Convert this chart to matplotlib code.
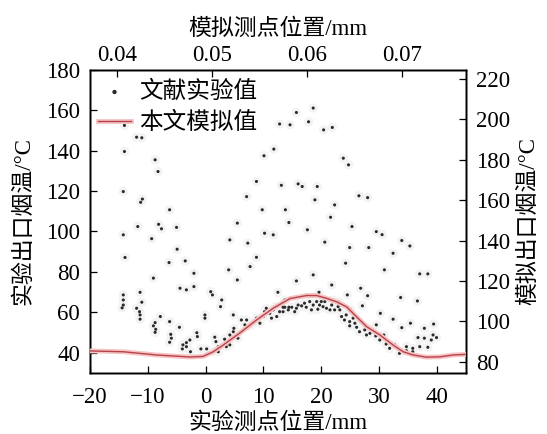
import matplotlib
matplotlib.use('Agg')
import matplotlib.pyplot as plt
import matplotlib.patheffects as pe

plt.rcParams['font.family'] = ['Liberation Serif', 'Noto Sans CJK SC']
plt.rcParams['axes.unicode_minus'] = True

# 文献实验值 (实验测点位置 mm, 实验出口烟温 °C)
exp_x = [-14.0, -11.9, -11.0, -14.0, -8.7, -8.2, -14.2, -10.9, -11.2, -6.2,
         7.1, 8.8, 9.8, 10.1, 11.8, 13.1, 12.8, 13.8, -11.7, -8.1,
         -7.6, -5.0, -14.2, -9.3, -4.9, -13.9, -6.3, -3.5, -9.0, -4.4,
         -3.3, -2.0, -2.0, -11.3, -14.2, -14.2, -14.2, -14.4, -11.0, -11.9,
         -11.4, -11.3, -11.3, -7.8, -8.7, -9.0, -8.6, -8.7, -6.2, -4.5,
         -6.0, -5.9, -6.2, -2.7, -3.3, -3.9, -3.3, -4.0, -2.6, -1.5,
         -1.4, -0.1, -0.1, -0.8, 0.2, 0.9, 1.2, 2.8, 2.6, 1.6,
         1.8, 2.2, 2.2, 1.3, 4.8, 4.9, 4.8, 4.2, 3.3, 4.2,
         3.6, 5.6, 6.2, 4.2, 5.5, 7.3, 4.0, 5.5, 7.7, 8.8,
         10.2, 11.7, 12.5, 7.1, 6.8, 7.7, 8.2, 8.8, 9.4, 10.0,
         10.2, 10.5, 11.1, 11.7, 12.0, 12.3, 12.8, 13.4, 13.7, 14.4,
         11.4, 15.7, 18.6, 14.6, 17.8, 20.4, 21.9, 23.8, 24.7, 16.0,
         16.7, 19.3, 18.9, 22.3, 21.6, 26.5, 28.0, 14.4, 17.6, 25.3,
         29.5, 30.5, 20.6, 24.9, 28.2, 33.9, 35.3, 32.4, 24.2, 30.9,
         18.6, 15.7, 37.0, 38.4, 21.8, 26.8, 28.0, 24.5, 19.6, 33.7,
         36.6, 27.1, 30.2, 32.4, 33.9, 35.4, 39.4, 37.8, 29.5, 36.7,
         37.8, 39.3, 39.9, 39.0, 38.4, 37.0, 35.8, 35.8, 34.7, 34.7,
         33.5, 32.7, 31.8, 31.2, 30.8, 30.1, 29.4, 28.9, 28.4, 27.8,
         28.1, 27.5, 26.6, 26.1, 25.8, 24.9, 24.9, 25.5, 24.0, 24.3,
         23.5, 23.2, 22.9, 22.3, 21.8, 21.5, 20.9, 20.3, 20.6, 20.0,
         19.7, 19.4, 19.2, 18.6, 18.3, 18.0, 17.4, 17.1, 16.6, 16.0,
         15.7, 15.4, 14.9, 14.3, 13.7, 13.4, 25.0, 22.9, 22.0]
exp_y = [152.4, 146.6, 146.3, 139.5, 135.4, 129.6, 119.7, 116.0, 114.4, 110.7,
         117.2, 124.7, 110.7, 137.4, 140.7, 122.8, 153.1, 110.7, 102.4, 103.5,
         101.3, 102.0, 98.3, 96.4, 91.2, 87.1, 84.6, 85.4, 76.9, 71.9,
         71.1, 72.7, 79.3, 69.9, 68.6, 66.1, 63.6, 62.2, 65.0, 62.0,
         60.3, 58.7, 56.6, 57.9, 54.9, 53.3, 51.6, 50.1, 55.4, 52.6,
         49.1, 47.2, 45.2, 46.3, 45.0, 43.9, 43.0, 41.9, 40.5, 49.9,
         48.0, 58.7, 57.1, 41.9, 41.9, 70.2, 68.6, 66.1, 62.8, 47.7,
         45.5, 43.0, 40.5, 40.5, 58.7, 52.1, 50.4, 48.8, 46.7, 43.9,
         43.0, 47.2, 56.2, 95.8, 104.1, 94.2, 81.0, 76.0, 82.6, 87.2,
         99.1, 98.3, 69.9, 56.2, 53.8, 53.3, 54.6, 57.1, 54.6, 57.9,
         60.3, 62.0, 59.5, 61.2, 62.8, 57.9, 60.3, 62.5, 66.1, 62.5,
         57.1, 158.8, 161.0, 152.7, 154.2, 150.2, 151.4, 136.2, 132.9, 123.5,
         122.2, 122.2, 115.6, 113.1, 107.0, 117.6, 116.7, 104.4, 100.8, 102.4,
         99.9, 98.4, 94.7, 92.0, 92.0, 95.5, 92.8, 89.2, 84.3, 81.0,
         78.5, 75.5, 79.0, 79.0, 73.5, 71.9, 68.2, 68.6, 69.9, 67.3,
         65.6, 63.2, 59.5, 56.6, 52.4, 54.6, 54.2, 52.1, 53.8, 47.5,
         47.2, 48.8, 47.5, 46.3, 42.7, 43.0, 42.2, 40.5, 43.0, 41.0,
         39.7, 43.9, 42.2, 44.3, 48.8, 46.3, 48.3, 51.3, 49.6, 48.8,
         52.1, 51.3, 50.4, 52.6, 54.6, 53.3, 55.4, 57.1, 56.2, 58.7,
         57.9, 61.2, 62.8, 61.2, 63.6, 61.2, 62.0, 62.8, 65.3, 65.3,
         63.6, 61.5, 65.3, 63.6, 61.2, 65.3, 62.5, 64.5, 63.2, 63.6,
         62.0, 60.3, 62.5, 61.2, 62.5, 60.3, 61.5, 65.3, 66.1]

# 本文模拟值 (模拟测点位置 mm, 模拟出口烟温 °C)
sim_x = [0.03712, 0.04063, 0.04416, 0.04767, 0.04907, 0.05013, 0.05118,
         0.05294, 0.05470, 0.05646, 0.05822, 0.05998, 0.06103, 0.06209,
         0.06314, 0.06420, 0.06525, 0.06631, 0.06771, 0.06911, 0.07017,
         0.07122, 0.07264, 0.07404, 0.07544, 0.07678]
sim_y = [85.4, 85.0, 83.4, 82.4, 82.7, 85.0, 88.3, 94.3, 100.7, 106.5,
         111.3, 112.8, 112.8, 111.4, 109.7, 107.2, 102.3, 97.4, 93.3, 88.3,
         85.0, 83.4, 82.3, 82.5, 83.4, 83.7]

bottom_ticks = [-20, -10, 0, 10, 20, 30, 40]
top_ticks = [0.04, 0.05, 0.06, 0.07]
left_ticks = [40, 60, 80, 100, 120, 140, 160, 180]
right_ticks = [80, 100, 120, 140, 160, 180, 200, 220]

fig = plt.figure(figsize=(5.47, 4.34), dpi=100)
ax = fig.add_axes([0.164, 0.1406, 0.688, 0.699])
ax2 = ax.twinx()
ax3 = ax2.twiny()

# 实验点: 浅灰晕 + 深色点
ax.scatter(exp_x, exp_y, s=45, color='#f3f3f3', edgecolors='none', zorder=1)
pts = ax.scatter(exp_x, exp_y, s=5, color='#2a2a2a', edgecolors='none',
                 zorder=2, label='文献实验值')

line, = ax3.plot(sim_x, sim_y, color='#b8424a', linewidth=1.0,
                 label='本文模拟值', zorder=3,
                 path_effects=[pe.Stroke(linewidth=3.5, foreground='#f5c4c4'),
                               pe.Normal()])

ax.set_xlim(-20, 45)
ax.set_ylim(30, 180)
ax2.set_ylim(74.5, 224.5)
ax3.set_xlim(0.0371, 0.0768)

ax.set_xticks(bottom_ticks)
ax.set_yticks(left_ticks)
ax2.set_yticks(right_ticks)
ax3.set_xticks(top_ticks)
ax3.set_xticklabels(['0.04', '0.05', '0.06', '0.07'])

for a in (ax, ax2, ax3):
    a.tick_params(direction='in', length=5, width=0.9, labelsize=16.5, pad=7)
    for s in a.spines.values():
        s.set_linewidth(1.0)
ax.tick_params(axis='x', pad=10)
ax3.tick_params(axis='x', pad=2.5)

ax.set_xlabel('实验测点位置/mm', fontsize=16.5, labelpad=3)
ax.set_ylabel('实验出口烟温/°C', fontsize=16.5, labelpad=8)
ax2.set_ylabel('模拟出口烟温/°C', fontsize=16.5, labelpad=6)
ax3.set_xlabel('模拟测点位置/mm', fontsize=16.5, labelpad=7)

ax3.legend([pts, line], ['文献实验值', '本文模拟值'], loc='upper left',
           bbox_to_anchor=(0.022, 0.963), frameon=False, fontsize=17,
           handlelength=1.4, handletextpad=0.35, labelspacing=0.38,
           borderaxespad=0.0, borderpad=0.0, markerscale=1.4)

fig.savefig('out.png', dpi=100)
plt.close(fig)
